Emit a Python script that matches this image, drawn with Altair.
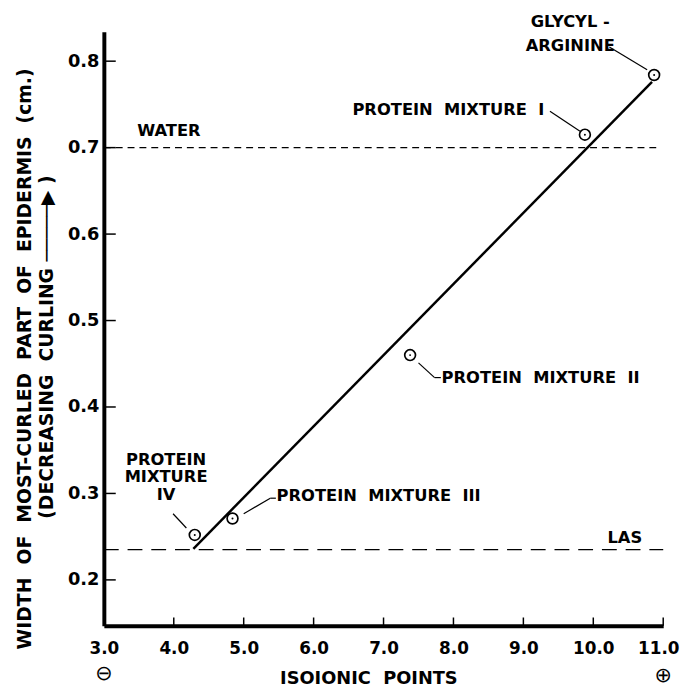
import altair as alt
import pandas as pd

# ---- data ----
samples = ["Glycyl-arginine", "Protein mixture I", "Protein mixture II",
           "Protein mixture III", "Protein mixture IV"]
isoionic = [10.87, 9.88, 7.38, 4.84, 4.30]
width_cm = [0.784, 0.715, 0.460, 0.271, 0.252]

fit_x = [4.28, 10.84]
fit_y = [0.236, 0.776]

water_y = 0.70
water_x = [3.0, 10.9]
las_y = 0.235
las_x = [3.0, 11.0]

x_ticks = [3, 4, 5, 6, 7, 8, 9, 10, 11]
y_ticks = [0.2, 0.3, 0.4, 0.5, 0.6, 0.7, 0.8]

X_DOM = [3.0, 11.0]
Y_DOM = [0.147, 0.834]

SP = "\u00a0\u00a0"
# annotation texts (text, x, y, align)
ann_text = ["GLYCYL -", "ARGININE", f"PROTEIN{SP}MIXTURE{SP}I", f"PROTEIN{SP}MIXTURE{SP}II",
            f"PROTEIN{SP}MIXTURE{SP}III", "PROTEIN", "MIXTURE", "IV", "WATER", "LAS"]
ann_x = [9.67, 9.67, 9.30, 7.83, 5.47, 3.89, 3.89, 3.89, 3.93, 10.45]
ann_y = [0.8454, 0.818, 0.744, 0.434, 0.2967, 0.339, 0.3185, 0.298, 0.7197, 0.2487]
ann_align = ["center", "center", "right", "left", "left", "center", "center",
             "center", "center", "center"]

# leader lines
lead_x = [10.23, 9.38, 7.50, 7.73, 5.00, 5.38, 3.99]
lead_y = [0.8165, 0.742, 0.451, 0.434, 0.2765, 0.2945, 0.2765]
lead_x2 = [10.77, 9.81, 7.73, 7.82, 5.38, 5.46, 4.18]
lead_y2 = [0.790, 0.719, 0.434, 0.434, 0.2945, 0.2945, 0.260]

FONT = "DejaVu Sans"

xs = alt.Scale(domain=X_DOM, nice=False, zero=False)
ys = alt.Scale(domain=Y_DOM, nice=False, zero=False)

pts = pd.DataFrame({"sample": samples, "x": isoionic, "y": width_cm})
fit = pd.DataFrame({"x": fit_x, "y": fit_y})
ref = pd.DataFrame({"x": [water_x[0], las_x[0]], "x2": [water_x[1], las_x[1]],
                    "y": [water_y, las_y], "kind": ["water", "las"]})
ann = pd.DataFrame({"t": ann_text, "x": ann_x, "y": ann_y, "a": ann_align})
lead = pd.DataFrame({"x": lead_x, "y": lead_y, "x2": lead_x2, "y2": lead_y2})

xtick_df = pd.DataFrame({"x": x_ticks[1:], "y": [Y_DOM[0]] * 8,
                         "y2": [Y_DOM[0] + 0.0095] * 8})
ytick_df = pd.DataFrame({"y": y_ticks, "x": [X_DOM[0]] * 7, "x2": [X_DOM[0] + 0.17] * 7})

base_x = alt.X("x:Q", scale=xs,
               axis=alt.Axis(values=x_ticks, format=".1f", title=None, ticks=False,
                             grid=False, domainWidth=4, domainColor="black",
                             labelFont=FONT, labelFontSize=17, labelFontWeight="bold",
                             labelColor="black", labelPadding=15, labelFlush=False,
                             labelOffset={"condition": {"test": "datum.value == 11", "value": -5},
                                          "value": 0}))
base_y = alt.Y("y:Q", scale=ys,
               axis=alt.Axis(values=y_ticks, format=".1f", title=None, ticks=False,
                             grid=False, domainWidth=4, domainColor="black",
                             labelFont=FONT, labelFontSize=18, labelFontWeight="bold",
                             labelColor="black", labelPadding=5))

water = alt.Chart(ref[ref.kind == "water"]).mark_rule(
    color="black", strokeWidth=1.3, strokeDash=[7, 5]).encode(
    x=alt.X("x:Q", scale=xs), x2="x2", y=alt.Y("y:Q", scale=ys))
las = alt.Chart(ref[ref.kind == "las"]).mark_rule(
    color="black", strokeWidth=1.3, strokeDash=[15, 9]).encode(
    x=alt.X("x:Q", scale=xs), x2="x2", y=alt.Y("y:Q", scale=ys))

line = alt.Chart(fit).mark_line(color="black", strokeWidth=2.5).encode(
    x=alt.X("x:Q", scale=xs), y=alt.Y("y:Q", scale=ys))

circ = alt.Chart(pts).mark_point(shape="circle", filled=False, size=120,
                                 strokeWidth=1.7, color="black", opacity=1).encode(
    x=alt.X("x:Q", scale=xs), y=alt.Y("y:Q", scale=ys))
dot = alt.Chart(pts).mark_point(shape="circle", filled=True, size=4,
                                color="black", opacity=1).encode(
    x=alt.X("x:Q", scale=xs), y=alt.Y("y:Q", scale=ys))

leaders = alt.Chart(lead).mark_rule(color="black", strokeWidth=1.2).encode(
    x=alt.X("x:Q", scale=xs), y=alt.Y("y:Q", scale=ys), x2="x2", y2="y2")

xt = alt.Chart(xtick_df).mark_rule(color="black", strokeWidth=1.5).encode(
    x=alt.X("x:Q", scale=xs), y=alt.Y("y:Q", scale=ys), y2="y2")
yt = alt.Chart(ytick_df).mark_rule(color="black", strokeWidth=1.5).encode(
    x=alt.X("x:Q", scale=xs), x2="x2", y=alt.Y("y:Q", scale=ys))

texts = []
for al in ["left", "center", "right"]:
    texts.append(alt.Chart(ann[ann.a == al]).mark_text(
        align=al, baseline="middle", font=FONT, fontSize=16.5, fontWeight="bold",
        color="black").encode(
        x=alt.X("x:Q", scale=xs), y=alt.Y("y:Q", scale=ys), text="t:N"))

# axis titles and sign symbols
xt_title = alt.Chart(pd.DataFrame({"t": [f"ISOIONIC{SP}POINTS"], "x": [6.79], "y": [0.085]})).mark_text(
    font=FONT, fontSize=18, fontWeight="bold", color="black", baseline="middle").encode(
    x=alt.X("x:Q", scale=xs), y=alt.Y("y:Q", scale=ys), text="t:N")
signs = alt.Chart(pd.DataFrame({"t": ["\u2296", "\u2295"], "x": [3.0, 11.0], "y": [0.0915, 0.089]})).mark_text(
    font="DejaVu Sans", fontSize=21, color="black", baseline="middle").encode(
    x=alt.X("x:Q", scale=xs), y=alt.Y("y:Q", scale=ys), text="t:N")
yt_title = alt.Chart(pd.DataFrame({
    "t": [f"WIDTH{SP}OF{SP}MOST-CURLED{SP}PART{SP}OF{SP}EPIDERMIS{SP}(cm.)",
          f"(DECREASING{SP}CURLING \u2500\u2500\u2500\u2500\u2500\u25B6 )"],
    "x": [1.87, 2.194], "y": [0.4556, 0.4693]})).mark_text(
    font=FONT, fontSize=19, fontWeight="bold", color="black", angle=270,
    baseline="middle").encode(
    x=alt.X("x:Q", scale=xs), y=alt.Y("y:Q", scale=ys), text="t:N")

bg = alt.Chart(pts).mark_point(opacity=0).encode(x=base_x, y=base_y)

chart = alt.layer(bg, water, las, line, circ, dot, leaders, xt, yt, *texts,
                  xt_title, signs, yt_title).properties(
    width=566, height=601,
    autosize=alt.AutoSizeParams(type="none"),
    padding={"left": 97, "top": 20, "right": 18, "bottom": 62},
    background="white",
).configure_view(stroke=None, clip=False)

chart.save("out.html", embed_options={"renderer": "svg", "actions": False})
